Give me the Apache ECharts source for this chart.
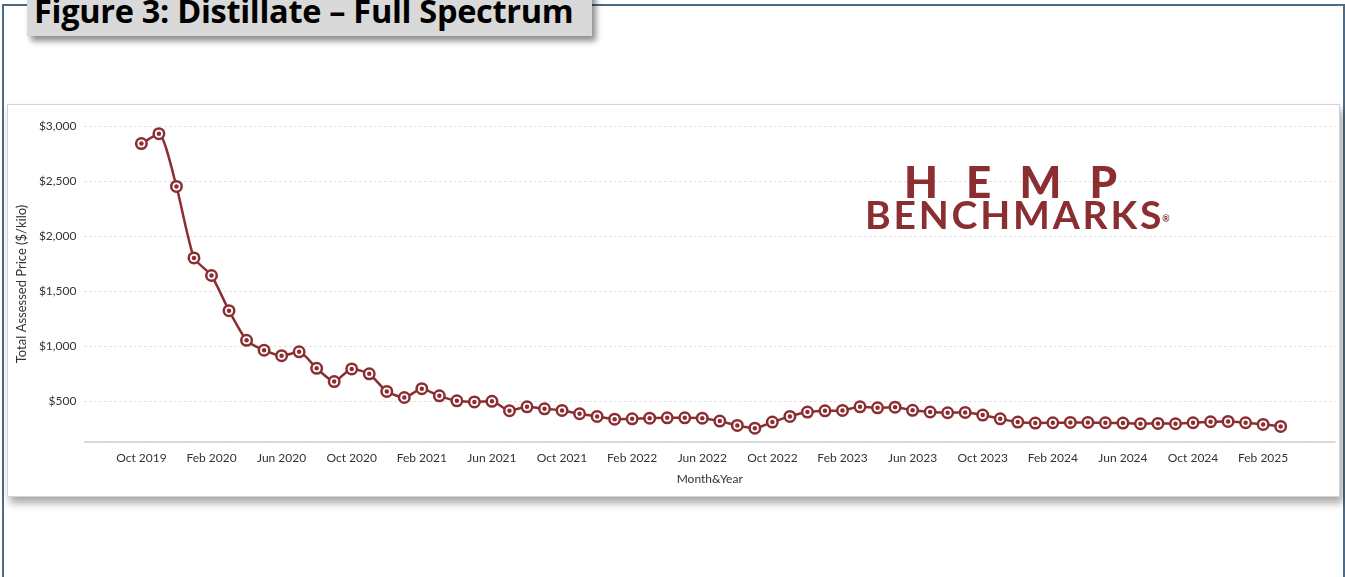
<!DOCTYPE html>
<html>
<head>
<meta charset="utf-8">
<script src="https://cdn.jsdelivr.net/npm/echarts@6/dist/echarts.min.js"></script>
<style>
  html, body { margin: 0; padding: 0; background: #fff; }
  #page { position: relative; width: 1345px; height: 577px; overflow: hidden; background: #fff; }
  #frame {
    position: absolute; left: 2px; top: 4px; width: 1343px; height: 600px;
    border: 2px solid #4d6b82; box-sizing: border-box;
  }
  #titleBox {
    position: absolute; left: 27px; top: -14px; width: 565px; height: 50px;
    background: #d9d9d9; box-shadow: 4px 5px 6px rgba(0,0,0,0.45);
    font-family: 'Open Sans', sans-serif; font-weight: 700; font-size: 32.5px;
    letter-spacing: -0.3px;
    color: #000; line-height: 50px; padding-left: 7px; box-sizing: border-box;
    white-space: nowrap;
  }
  #panel {
    position: absolute; left: 7px; top: 104px; width: 1333px; height: 393px;
    background: #fff; border: 1px solid #d4d4d4; box-sizing: border-box;
    box-shadow: 3px 6px 8px rgba(0,0,0,0.35);
  }
  #container { position: absolute; left: -1px; top: 0; width: 1333px; height: 393px; }
  #logoTop {
    position: absolute; left: 904px; top: 157px; width: 213px;
    display: flex; justify-content: space-between;
    font-family: 'Lato', sans-serif; font-weight: 900; font-size: 44px;
    line-height: 48px; color: #8b2e32;
  }
  #logoBottom {
    position: absolute; left: 865px; top: 192px;
    font-family: 'Lato', sans-serif; font-weight: 700; font-size: 39px; line-height: 44px;
    letter-spacing: 2.8px; color: #8b2e32; white-space: nowrap;
  }
  #logoBottom sup { font-size: 9px; vertical-align: top; position: relative; top: 5px; left: -2px; letter-spacing: 0; }
</style>
</head>
<body>
<div id="page">
  <div id="frame"></div>
  <div id="panel">
    <div id="container"></div>
  </div>
  <div id="logoTop"><span>H</span><span>E</span><span>M</span><span>P</span></div>
  <div id="logoBottom">BENCHMARKS<sup>®</sup></div>
  <div id="titleBox">Figure 3: Distillate – Full Spectrum</div>
</div>
<script>
// months Oct 2019 .. Mar 2025
const months = [
  'Oct 2019', 'Nov 2019', 'Dec 2019',
  'Jan 2020', 'Feb 2020', 'Mar 2020', 'Apr 2020', 'May 2020', 'Jun 2020', 'Jul 2020', 'Aug 2020', 'Sep 2020', 'Oct 2020', 'Nov 2020', 'Dec 2020',
  'Jan 2021', 'Feb 2021', 'Mar 2021', 'Apr 2021', 'May 2021', 'Jun 2021', 'Jul 2021', 'Aug 2021', 'Sep 2021', 'Oct 2021', 'Nov 2021', 'Dec 2021',
  'Jan 2022', 'Feb 2022', 'Mar 2022', 'Apr 2022', 'May 2022', 'Jun 2022', 'Jul 2022', 'Aug 2022', 'Sep 2022', 'Oct 2022', 'Nov 2022', 'Dec 2022',
  'Jan 2023', 'Feb 2023', 'Mar 2023', 'Apr 2023', 'May 2023', 'Jun 2023', 'Jul 2023', 'Aug 2023', 'Sep 2023', 'Oct 2023', 'Nov 2023', 'Dec 2023',
  'Jan 2024', 'Feb 2024', 'Mar 2024', 'Apr 2024', 'May 2024', 'Jun 2024', 'Jul 2024', 'Aug 2024', 'Sep 2024', 'Oct 2024', 'Nov 2024', 'Dec 2024',
  'Jan 2025', 'Feb 2025', 'Mar 2025'
]

// total assessed price ($/kilo)
const prices = [
  2840, 2930, 2450, 1800, 1640, 1320, 1050, 960, 910, 945,
  795, 675, 790, 745, 585, 530, 610, 545, 500, 490,
  495, 410, 445, 427, 412, 382, 358, 333, 336, 342,
  345, 345, 342, 315, 276, 251, 306, 358, 397, 409,
  412, 445, 436, 442, 413, 398, 391, 394, 370, 336,
  306, 297, 300, 303, 303, 300, 297, 291, 294, 291,
  300, 309, 312, 300, 285, 267
]

const xTickLabels = ['Oct 2019', 'Feb 2020', 'Jun 2020', 'Oct 2020', 'Feb 2021', 'Jun 2021', 'Oct 2021',
  'Feb 2022', 'Jun 2022', 'Oct 2022', 'Feb 2023', 'Jun 2023', 'Oct 2023', 'Feb 2024', 'Jun 2024',
  'Oct 2024', 'Feb 2025']
const yTickValues = [500, 1000, 1500, 2000, 2500, 3000]

const lineColor = '#8b2e32'
const seriesData = prices.map((p, i) => [i, p])

let chartDom = document.getElementById('container')
let myChart = echarts.init(chartDom, null, { renderer: 'canvas' })
let option = {
  animation: false,
  textStyle: { fontFamily: 'Lato' },
  grid: {
    left: 75,
    right: 5,
    top: 21,
    bottom: 56
  },
  xAxis: {
    type: 'value',
    min: -3.25,
    max: 68.1,
    name: 'Month&Year',
    nameLocation: 'middle',
    nameGap: 31,
    nameTextStyle: { color: '#333', fontSize: 12, fontFamily: 'Lato' },
    axisLine: { show: true, lineStyle: { color: '#cfcfcf', width: 1.5 } },
    axisTick: { show: false },
    splitLine: { show: false },
    axisLabel: {
      color: '#333',
      fontSize: 12,
      margin: 10,
      customValues: xTickLabels.map(l => months.indexOf(l)),
      formatter: v => months[Math.round(v)] || ''
    }
  },
  yAxis: {
    type: 'value',
    min: 125,
    max: 3000,
    minInterval: 500,
    maxInterval: 500,
    name: 'Total Assessed Price ($/kilo)',
    nameLocation: 'middle',
    nameGap: 53,
    nameTextStyle: { color: '#333', fontSize: 13, fontFamily: 'Lato' },
    axisLine: { show: false },
    axisTick: { show: false },
    axisLabel: {
      color: '#333',
      fontSize: 12,
      margin: 8,
      formatter: v => yTickValues.indexOf(v) >= 0 ? '$' + v.toLocaleString('en-US') : ''
    },
    splitLine: {
      show: true,
      lineStyle: { color: '#d8d8d8', type: [2, 3], width: 1 }
    }
  },
  series: [
    {
      name: 'Price',
      type: 'line',
      data: seriesData,
      smooth: 0.2,
      lineStyle: { color: lineColor, width: 2.5 },
      showSymbol: false,
      z: 2
    },
    {
      name: 'PriceRing',
      type: 'scatter',
      data: seriesData,
      symbol: 'circle',
      symbolSize: 10.5,
      itemStyle: { color: '#fff', borderColor: lineColor, borderWidth: 2.5, opacity: 1 },
      z: 3
    },
    {
      name: 'PriceDot',
      type: 'scatter',
      data: seriesData,
      symbol: 'circle',
      symbolSize: 4.5,
      itemStyle: { color: lineColor, opacity: 1 },
      z: 4
    }
  ]
}

option && myChart.setOption(option)
</script>
</body>
</html>
